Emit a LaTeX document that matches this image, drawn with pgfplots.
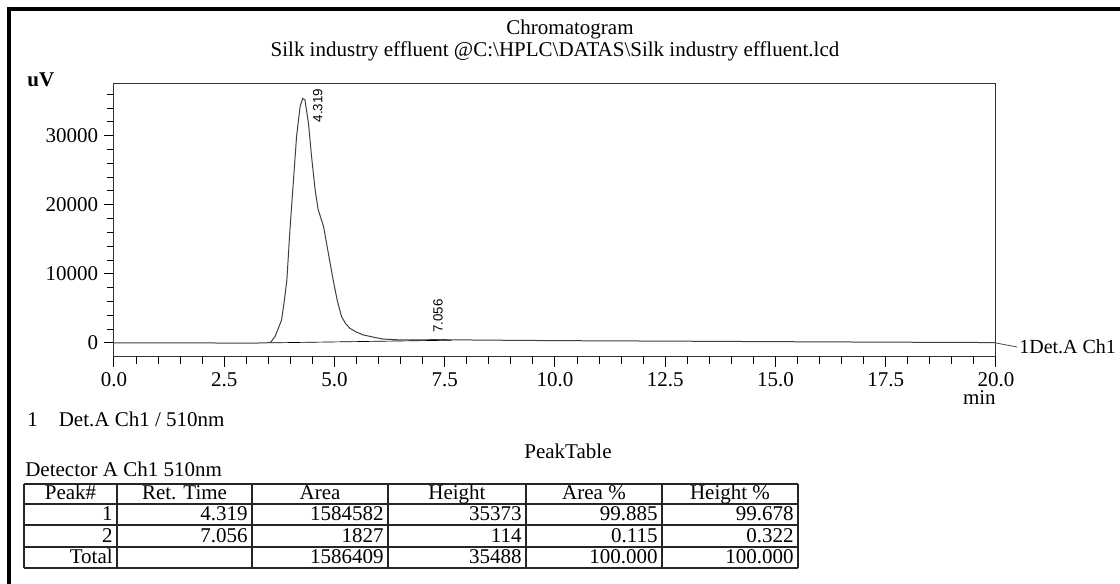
\documentclass[border=0pt]{standalone}
\usepackage{fontspec}
\setmainfont{Liberation Serif}
\newfontfamily\labfont{Liberation Sans}
\usepackage{pgfplots}
\pgfplotsset{compat=1.18}
\newcommand\fs{\fontsize{12.6}{14}\selectfont}
\newcommand\lfs{\labfont\fontsize{8}{9}\selectfont}

\begin{document}
\begin{tikzpicture}[x=0.6pt,y=0.6pt,font=\fs]
\useasboundingbox (0,0) rectangle (1120,584);
\fill[white] (0,0) rectangle (1120,584);
% outer frame (only top and left visible)
\draw[line width=2.1pt] (9,0) -- (9,575) -- (1120,575);

\begin{axis}[
    at={(68.4pt,136.2pt)}, anchor=south west,
    scale only axis, width=529.2pt, height=163.8pt,
    xmin=0, xmax=20, ymin=-2050, ymax=37500,
    xtick={0,2.5,...,20}, minor x tick num=4,
    ytick={0,10000,20000,30000},
    minor ytick={2000,4000,...,36000},
    tick pos=left, tick align=outside,
    major tick length=6pt, minor tick length=4pt,
    every tick/.style={black, line width=0.6pt},
    axis line style={black!80, line width=0.6pt},
    xticklabel style={/pgf/number format/.cd, fixed, fixed zerofill, precision=1},
    yticklabel style={/pgf/number format/.cd, fixed, 1000 sep={}},
    scaled ticks=false,
    /pgf/number format/assume math mode=true,
    ticklabel style={font=\fs},
    clip=false,
]
% detector signal
\addplot[black!75, line width=0.6pt] coordinates {
    (0,0) (1,0) (2,-20) (3,-30) (3.4,-20) (3.55,50) (3.65,900) (3.72,2000)
    (3.80,3300) (3.86,6000) (3.92,9100) (3.99,16400) (4.07,23600) (4.14,29900)
    (4.22,34250) (4.28,35400) (4.33,35200) (4.41,31800) (4.48,27000) (4.56,22200)
    (4.63,19300) (4.75,16900) (4.86,13000) (4.97,9100) (5.06,6200) (5.16,3800)
    (5.25,2800) (5.35,2100) (5.5,1550) (5.65,1150) (5.9,800) (6.1,550) (6.5,420)
    (7.0,420) (7.3,480) (7.6,440) (8.5,390) (10,320) (12.5,250) (15,170)
    (17.5,100) (20,40)
};
% integration baseline
\addplot[black, line width=0.4pt] coordinates {(3.55,0) (7.65,380)};
\node[rotate=90, anchor=west, font=\lfs, inner sep=0pt] at (axis cs:4.62,31900) {4.319};
\node[rotate=90, anchor=west, font=\lfs, inner sep=0pt] at (axis cs:7.35,1400) {7.056};
\end{axis}

\draw[black!70, line width=0.5pt] (996,241) -- (1017,237);
\node[anchor=west, inner sep=0pt, font=\fontsize{12}{14}\selectfont] at (1019,237) {1Det.A Ch1};

\node[anchor=base, inner sep=0pt] at (570,549) {Chromatogram};
\node[anchor=base, inner sep=0pt] at (555,527) {Silk industry effluent @C:\textbackslash HPLC\textbackslash DATAS\textbackslash Silk industry effluent.lcd};
\node[anchor=base west, inner sep=0pt, font=\fs\bfseries] at (27,497) {uV};
\node[anchor=base east, inner sep=0pt] at (996,179) {min};
\node[anchor=base west, inner sep=0pt] at (27,157) {1\quad Det.A Ch1 / 510nm};
\node[anchor=base, inner sep=0pt] at (568,125) {PeakTable};
\node[anchor=base west, inner sep=0pt] at (25,107) {Detector A Ch1 510nm};

% peak table
\begin{scope}[line width=0.7pt, black!85]
\foreach \yy in {100,80,59,37,16} \draw (24,\yy) -- (798,\yy);
\foreach \xx in {24,117,252,388,526,662,798} \draw (\xx,16) -- (\xx,100);
\end{scope}
\begin{scope}[every node/.style={inner sep=0pt}]
\node[anchor=base] at (70.5,84) {Peak\#};
\node[anchor=base] at (184.5,84) {Ret. Time};
\node[anchor=base] at (320,84) {Area};
\node[anchor=base] at (457,84) {Height};
\node[anchor=base] at (594,84) {Area \%};
\node[anchor=base] at (730,84) {Height \%};
\foreach \yb/\a/\b/\c/\d/\e/\f in {63/1/4.319/1584582/35373/99.885/99.678,
                                   41/2/7.056/1827/114/0.115/0.322,
                                   20/Total//1586409/35488/100.000/100.000} {
  \node[anchor=base east] at (113,\yb) {\a};
  \node[anchor=base east] at (248,\yb) {\b};
  \node[anchor=base east] at (384,\yb) {\c};
  \node[anchor=base east] at (522,\yb) {\d};
  \node[anchor=base east] at (658,\yb) {\e};
  \node[anchor=base east] at (794,\yb) {\f};
}
\end{scope}
\end{tikzpicture}
\end{document}
